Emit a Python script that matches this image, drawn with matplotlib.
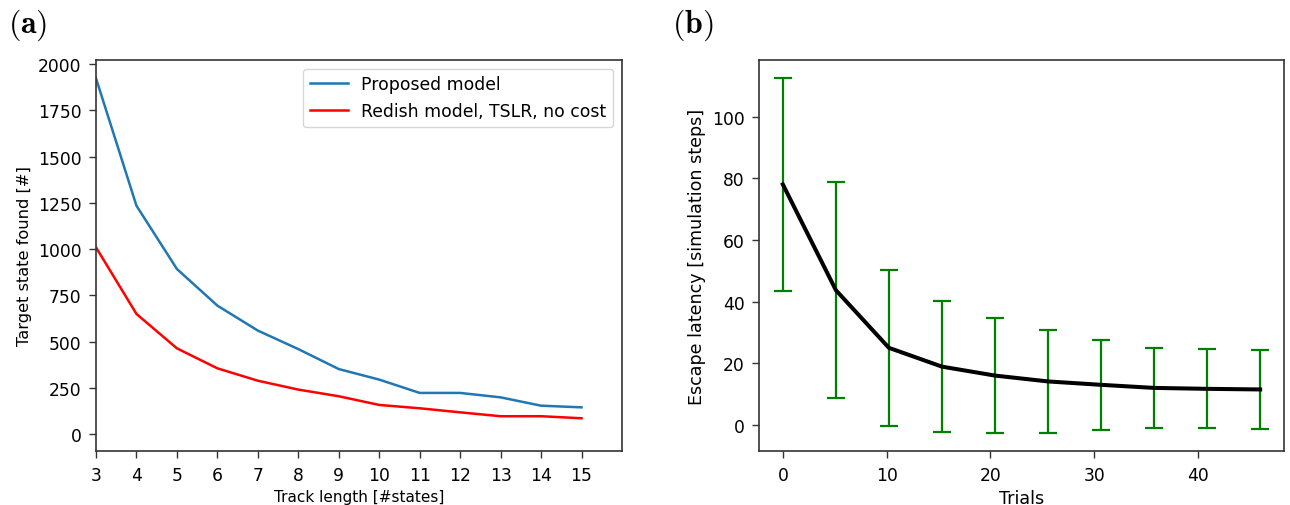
import numpy as np
import matplotlib
matplotlib.use("Agg")
import matplotlib.pyplot as plt

plt.rcParams['mathtext.fontset'] = 'cm'

# Panel (a)
track_len = [3, 4, 5, 6, 7, 8, 9, 10, 11, 12, 13, 14, 15]
proposed = [1923, 1234, 892, 694, 559, 459, 351, 294, 222, 222, 198, 153, 144]
redish = [1009, 649, 463, 355, 288, 240, 204, 157, 139, 117, 96, 96, 85]

# Panel (b)
trials = np.linspace(0, 46, 10)
latency = [78.0, 43.7, 25.0, 18.9, 16.0, 14.1, 13.0, 12.0, 11.7, 11.5]
latency_err = [34.6, 35.0, 25.35, 21.3, 18.7, 16.8, 14.5, 13.1, 12.8, 12.75]

fig = plt.figure(figsize=(12.9, 5.06), dpi=100)
ax1 = fig.add_axes([96/1290, 1-452/506, (622-96)/1290, (452-61)/506])
ax2 = fig.add_axes([759/1290, 1-452/506, (1284-759)/1290, (452-61)/506])

TICK = 12.3

ax1.plot(track_len, proposed, color='#1f77b4', lw=1.8, label='Proposed model')
ax1.plot(track_len, redish, color='red', lw=1.8, label='Redish model, TSLR, no cost')
ax1.set_xlim(3, 16)
ax1.set_ylim(-92, 2022)
ax1.set_xticks(track_len)
ax1.set_yticks([0, 250, 500, 750, 1000, 1250, 1500, 1750, 2000])
ax1.set_xlabel('Track length [#states]', fontsize=11.0)
ax1.set_ylabel('Target state found [#]', fontsize=11.7)
ax1.legend(fontsize=12.4, loc='upper right', handlelength=2.2)

ax2.errorbar(trials, latency, yerr=latency_err, color='black', lw=2.9,
             ecolor='green', elinewidth=1.6, capsize=6.5, capthick=1.6)
ax2.set_xticks([0, 10, 20, 30, 40])
ax2.set_yticks([0, 20, 40, 60, 80, 100])
ax2.set_xlabel('Trials', fontsize=12.6)
ax2.set_ylabel('Escape latency [simulation steps]', fontsize=12.6)

for ax in (ax1, ax2):
    ax.tick_params(labelsize=TICK, length=5, width=1.0, pad=5.5, color='#333333')
    for s in ax.spines.values():
        s.set_color('#333333')
        s.set_linewidth(1.2)

fig.text(8/1290, 1-25/506, r'$\mathbf{(a)}$', fontsize=23, va='center', ha='left')
fig.text(672/1290, 1-25/506, r'$\mathbf{(b)}$', fontsize=23, va='center', ha='left')

fig.savefig('out.png', dpi=100)
